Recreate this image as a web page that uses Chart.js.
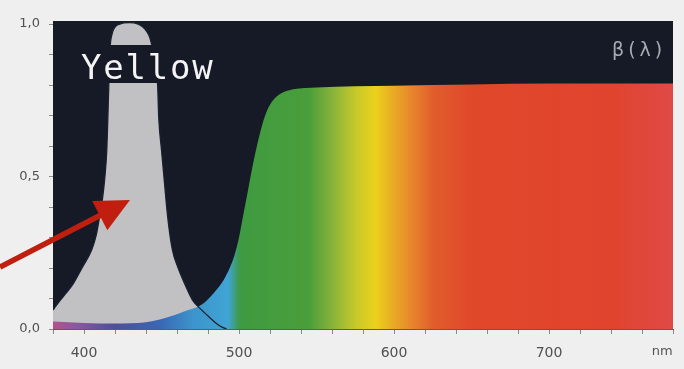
<!DOCTYPE html>
<html>
<head>
<meta charset="utf-8">
<script src="https://cdn.jsdelivr.net/npm/chart.js@4/dist/chart.umd.min.js"></script>
<style>
  html, body { margin: 0; padding: 0; background: #efefef; }
  #wrap { width: 684px; height: 369px; position: relative; }
  #c { filter: blur(0.4px); }
</style>
</head>
<body>
<div id="wrap"><canvas id="c" width="684" height="369"></canvas></div>
<script>
// ---------- data ----------
const xTickValues = [380, 400, 420, 440, 460, 480, 500, 520, 540, 560, 580, 600, 620, 640, 660, 680, 700, 720, 740, 760, 780];
const xTickLabels = { 400: '400', 500: '500', 600: '600', 700: '700' };
const xUnitLabel = 'nm';
const yTickValues = [0, 0.1, 0.2, 0.3, 0.4, 0.5, 0.6, 0.7, 0.8, 0.9, 1.0];
const yTickLabels = { 0: '0,0', 5: '0,5', 10: '1,0' };

// blue LED emission peak (grey area)
const peakNm  = [380, 384, 388, 393, 399, 405, 408, 410, 412, 413.5, 414.7, 415.4, 416, 416.8, 418, 420, 423, 429, 435, 438, 440.5, 442.5, 445, 447.5, 448.2, 450, 452, 454, 457, 460.5, 465, 470, 476, 481, 485, 489, 492];
const peakVal = [0.062, 0.09, 0.115, 0.148, 0.203, 0.26, 0.31, 0.367, 0.43, 0.5, 0.587, 0.695, 0.80, 0.92, 0.965, 0.99, 1.0, 1.005, 1.0, 0.99, 0.975, 0.955, 0.9, 0.80, 0.695, 0.587, 0.475, 0.367, 0.26, 0.203, 0.148, 0.095, 0.062, 0.038, 0.02, 0.006, 0];

// yellow filter transmission beta(lambda) (coloured area)
const specNm  = [380, 400, 420, 440, 455, 465, 476, 484, 490, 494, 497, 500, 503, 506, 509, 512, 515, 518, 522, 527, 535, 550, 600, 650, 700, 780];
const specVal = [0.025, 0.02, 0.018, 0.022, 0.04, 0.058, 0.08, 0.12, 0.16, 0.2, 0.24, 0.3, 0.38, 0.46, 0.54, 0.61, 0.67, 0.715, 0.75, 0.772, 0.786, 0.792, 0.798, 0.802, 0.805, 0.805];

const annotationText = 'Yellow';
const seriesLabel = 'β(λ)';

// ---------- styles ----------
const PLOT_BG = '#151a26';
const PEAK_COLOR = '#c1c1c3';
const spectrumStops = [
  [380, '#b4508c'], [395, '#8a58a0'], [420, '#4d4f98'], [450, '#3a68b6'],
  [470, '#3c94cc'], [493, '#40a4d4'], [500, '#3e9a4a'], [503, '#3f9b40'],
  [545, '#4a9e3a'], [560, '#86b23a'], [575, '#c6c82a'], [588, '#ead21c'],
  [598, '#e8b024'], [610, '#e88a2c'], [625, '#e05e2c'], [650, '#e0482a'],
  [740, '#e0442e'], [780, '#e04a46']
];

const toPts = (xs, ys) => xs.map((x, i) => ({ x, y: ys[i] }));

function spectrumFill(ctx) {
  const chart = ctx.chart;
  const area = chart.chartArea;
  if (!area) return null;
  const xs = chart.scales.x;
  const x0 = xs.getPixelForValue(xs.min), x1 = xs.getPixelForValue(xs.max);
  const g = chart.ctx.createLinearGradient(x0, 0, x1, 0);
  spectrumStops.forEach(([nm, c]) => g.addColorStop((nm - xs.min) / (xs.max - xs.min), c));
  return g;
}

const bgPlugin = {
  id: 'plotBg',
  beforeDatasetsDraw(chart) {
    const { ctx, chartArea: a } = chart;
    ctx.save();
    ctx.fillStyle = PLOT_BG;
    ctx.fillRect(a.left, a.top, a.right - a.left, a.bottom - a.top);
    ctx.restore();
  }
};

const annPlugin = {
  id: 'ann',
  afterDraw(chart) {
    const { ctx, scales } = chart;
    ctx.save();
    // dark box behind the label
    ctx.fillStyle = PLOT_BG;
    ctx.fillRect(78, 45, 140, 38);
    ctx.fillStyle = '#f4f4f4';
    ctx.font = '34px "DejaVu Sans Mono"';
    ctx.letterSpacing = '1.8px';
    ctx.textBaseline = 'alphabetic';
    ctx.textAlign = 'left';
    ctx.fillText(annotationText, 81, 79);
    // series label
    ctx.fillStyle = '#a8acb3';
    ctx.font = '19px "DejaVu Sans"';
    ctx.letterSpacing = '4px';
    ctx.fillText(seriesLabel, 612, 56);
    ctx.letterSpacing = '0px';
    // unit label
    ctx.fillStyle = '#555';
    ctx.font = '13px "DejaVu Sans"';
    ctx.textAlign = 'center';
    ctx.textBaseline = 'middle';
    ctx.fillText(xUnitLabel, scales.x.getPixelForValue(773), 352);
    // red arrow
    const tip = [130, 200], tail = [0, 267];
    const ang = Math.atan2(tip[1] - tail[1], tip[0] - tail[0]);
    const headLen = 34, headHalf = 16.5;
    const bx = tip[0] - headLen * Math.cos(ang), by = tip[1] - headLen * Math.sin(ang);
    ctx.strokeStyle = '#c01f10';
    ctx.fillStyle = '#c01f10';
    ctx.lineWidth = 5.5;
    ctx.beginPath();
    ctx.moveTo(tail[0], tail[1]);
    ctx.lineTo(bx + 4 * Math.cos(ang), by + 4 * Math.sin(ang));
    ctx.stroke();
    ctx.beginPath();
    ctx.moveTo(tip[0], tip[1]);
    ctx.lineTo(bx - headHalf * Math.sin(ang), by + headHalf * Math.cos(ang));
    ctx.lineTo(bx + headHalf * Math.sin(ang), by - headHalf * Math.cos(ang));
    ctx.closePath();
    ctx.fill();
    ctx.restore();
  }
};

new Chart(document.getElementById('c'), {
  type: 'line',
  data: {
    datasets: [
      { // outline of the peak on top
        data: toPts(peakNm, peakVal),
        borderColor: '#1b2030', borderWidth: 1.3, fill: false,
        pointRadius: 0, cubicInterpolationMode: 'monotone'
      },
      { // spectrum area
        data: toPts(specNm, specVal),
        borderColor: 'rgba(0,0,0,0)', borderWidth: 0, fill: 'origin',
        backgroundColor: spectrumFill,
        pointRadius: 0, cubicInterpolationMode: 'monotone'
      },
      { // peak area
        data: toPts(peakNm, peakVal),
        borderColor: 'rgba(0,0,0,0)', borderWidth: 0, fill: 'origin',
        backgroundColor: PEAK_COLOR,
        pointRadius: 0, cubicInterpolationMode: 'monotone'
      }
    ]
  },
  options: {
    responsive: false,
    animation: false,
    devicePixelRatio: 1,
    layout: { padding: { top: 21, right: 9, left: 0, bottom: 0 } },
    plugins: { legend: { display: false }, tooltip: { enabled: false } },
    scales: {
      x: {
        type: 'linear', min: 380, max: 780,
        afterFit(s) { s.height = 40; },
        afterBuildTicks(s) { s.ticks = xTickValues.map(v => ({ value: v })); },
        ticks: {
          autoSkip: false, maxRotation: 0, padding: 11,
          color: '#505050', font: { family: 'DejaVu Sans', size: 14 },
          callback: v => xTickLabels[v] || ''
        },
        grid: { drawOnChartArea: false, tickLength: 5, color: '#8a8a8a', tickColor: '#8a8a8a' },
        border: { display: true, color: 'rgba(60,20,20,0.7)', width: 1 }
      },
      y: {
        min: 0, max: 1.01,
        afterFit(s) { s.width = 53; },
        afterBuildTicks(s) { s.ticks = yTickValues.map(v => ({ value: v })); },
        ticks: {
          autoSkip: false, padding: 9,
          color: '#505050', font: { family: 'DejaVu Sans', size: 13 },
          callback: v => yTickLabels[Math.round(v * 10)] || ''
        },
        grid: { drawOnChartArea: false, tickLength: 4, color: '#8a8a8a', tickColor: '#8a8a8a' },
        border: { display: false }
      }
    }
  },
  plugins: [bgPlugin, annPlugin]
});
</script>
</body>
</html>
